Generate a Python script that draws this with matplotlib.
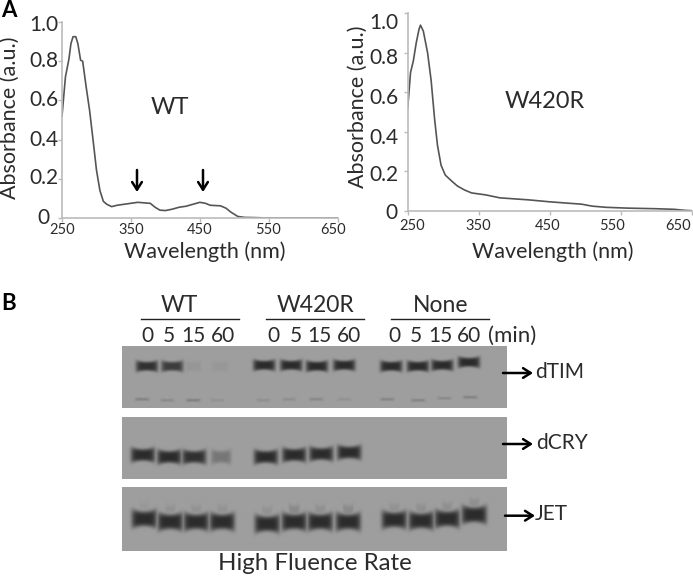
#!/usr/bin/env python3
import numpy as np
import matplotlib
matplotlib.use("Agg")
import matplotlib.pyplot as plt

plt.rcParams['font.family'] = ['Lato', 'DejaVu Sans']

W, H = 693, 577
TEXT = '#2b2b2b'

# ======= Spectra =======
wt_nm = [250, 255, 260, 263, 266, 270, 273, 277, 280, 285, 290, 295, 300, 305, 310, 315, 322, 330,
         340, 350, 360, 370, 378, 385, 392, 400, 410, 420, 430, 440, 450, 458, 465, 480, 488, 495,
         505, 515, 530, 550, 650]
wt_abs = [0.52, 0.72, 0.81, 0.89, 0.925, 0.925, 0.89, 0.805, 0.80, 0.67, 0.55, 0.40, 0.245, 0.14,
          0.085, 0.07, 0.058, 0.065, 0.07, 0.075, 0.08, 0.077, 0.075, 0.055, 0.04, 0.038, 0.045,
          0.055, 0.06, 0.07, 0.08, 0.075, 0.065, 0.062, 0.05, 0.03, 0.008, 0.003, 0.002, 0.0, 0.0]

mut_nm = [250, 254, 258, 262, 266, 268, 272, 278, 283, 288, 292, 297, 303, 312, 320, 330, 340, 360,
          380, 400, 420, 450, 480, 495, 510, 530, 560, 600, 625, 640, 650]
mut_abs = [0.52, 0.70, 0.76, 0.85, 0.92, 0.94, 0.91, 0.80, 0.66, 0.46, 0.33, 0.23, 0.18, 0.15, 0.125,
           0.105, 0.09, 0.08, 0.065, 0.06, 0.055, 0.045, 0.037, 0.033, 0.023, 0.017, 0.013, 0.01,
           0.007, 0.002, 0.0]

x_ticks = [250, 350, 450, 550, 650]
y_ticks = [0, 0.2, 0.4, 0.6, 0.8, 1.0]
y_tick_labels = ['0', '0.2', '0.4', '0.6', '0.8', '1.0']

# ======= Blot band strengths, lanes WT / W420R / None x 0, 5, 15, 60 =======
lane_labels = ['0', '5', '15', '60']
tim_main = [0.95, 0.85, 0.07, 0.06, 1, 1, 1, 1, 1, 1, 1, 1]
tim_low = [0.22, 0.16, 0.24, 0.10, 0.12, 0.12, 0.18, 0.10, 0.20, 0.20, 0.16, 0.22]
cry_main = [1, 1, 0.95, 0.35, 1, 1, 1, 1, 0, 0, 0, 0]
jet_main = [1, 1, 1, 1, 1, 1, 1, 1, 1, 1, 1, 1]
jet_smear = [0.05, 0.1, 0.1, 0.1, 0.1, 0.18, 0.12, 0.18, 0.1, 0.12, 0.12, 0.12]


def px_rect(x0, y0, x1, y1):
    return [x0 / W, 1 - y1 / H, (x1 - x0) / W, (y1 - y0) / H]


def band(X, Y, cx, cy, a, w, h):
    dx = (X - cx) / w
    # the ends of a band run thicker than its middle
    th = h * (0.9 + 0.35 * np.minimum(dx ** 2, 1))
    return a * np.exp(-dx ** 6) * np.exp(-np.abs((Y - cy) / th) ** 4)


def blot(ax, box, layers, bg=0.62):
    x0, y0, x1, y1 = box
    X, Y = np.meshgrid(np.arange(x0, x1, 0.5), np.arange(y0, y1, 0.5))
    dark = np.zeros_like(X)
    for strengths, xs, ys, w, h in layers:
        for a, cx, cy in zip(strengths, xs, ys):
            # weak bands are narrower than saturated ones
            dark = np.maximum(dark, band(X, Y, cx, cy, a, w * (0.7 + 0.3 * min(1, a * 1.2)), h))
    ax.imshow(bg - (bg - 0.17) * dark, extent=(x0, x1, y1, y0), cmap='gray', vmin=0, vmax=1,
              aspect='auto', interpolation='bilinear', zorder=1)


def spectrum(rect, nm, values, x_end=650):
    ax = fig.add_axes(rect, facecolor='none')
    ax.plot(nm, values, color='#555555', lw=1.2)
    ax.set_xlim(250, x_end)
    ax.set_ylim(0, 1)
    ax.set_xticks(x_ticks)
    ax.set_yticks(y_ticks)
    ax.set_xticklabels([])
    ax.set_yticklabels([])
    ax.tick_params(length=3, width=1, color='#bbbbbb')
    ax.spines[['top', 'right']].set_visible(False)
    ax.spines[['left', 'bottom']].set_color('#bbbbbb')
    ax.spines[['left', 'bottom']].set_linewidth(1.2)
    return ax


def arrow(ax, x0, y0, x1, y1, lw=1.8):
    ax.annotate('', xy=(x1, y1), xytext=(x0, y0),
                arrowprops=dict(arrowstyle='->,head_length=0.55,head_width=0.35', color='black',
                                lw=lw, shrinkA=0, shrinkB=0))


fig = plt.figure(figsize=(W / 100, H / 100), dpi=100, facecolor='white')

spectrum(px_rect(62, 22, 337.7, 218), wt_nm, wt_abs)
spectrum(px_rect(407.7, 13.3, 691.7, 210.7), mut_nm, mut_abs)

# pixel-space layer for labels and the blots
ov = fig.add_axes([0, 0, 1, 1], facecolor='none')

tim_x = [146.7, 172, 193, 220, 264, 291, 316.7, 344, 391, 417.7, 442, 468.7]
tim_y = [366, 366, 366, 366, 365, 365, 366, 365, 366, 366, 365, 362]
tim_low_x = [142, 167, 193, 217, 263, 289, 316, 344, 387, 418, 444, 470]
tim_low_y = [399, 400, 400, 400, 400, 399, 399, 399, 399, 400, 398, 397]
cry_x = [142.7, 169, 194, 221, 265.7, 294, 321, 349, 0, 0, 0, 0]
cry_y = [455, 457, 457, 457, 457, 455, 454, 452.5, 0, 0, 0, 0]
jet_x = [144, 170, 196, 222, 267, 294, 320, 348, 394, 421, 447, 474]
jet_y = [519, 522, 522, 522, 524, 522, 522, 522, 520, 521, 519, 515]
smear_y = [y - 10 for y in jet_y]

blot(ov, (122, 346, 506.7, 408), [(tim_main, tim_x, tim_y, 11, 5), (tim_low, tim_low_x, tim_low_y, 9, 1.6)])
blot(ov, (122, 417.3, 506.7, 479.3), [(cry_main, cry_x, cry_y, 12, 6.5)])
blot(ov, (122, 487.7, 506.7, 551), [(jet_main, jet_x, jet_y, 12.5, 8), (jet_smear, jet_x, smear_y, 7, 7)])

ov.set_xlim(0, W)
ov.set_ylim(H, 0)
ov.axis('off')


def put(x, y, s, size, **kw):
    kw.setdefault('ha', 'center')
    kw.setdefault('va', 'center')
    kw.setdefault('color', TEXT)
    ov.text(x, y, s, fontsize=size, **kw)


# panel A, left
for lab, y in zip(y_tick_labels, [218, 178, 140, 100, 61, 25]):
    put(49 if lab == '0' else 58, y, lab, 15, ha='right')
for t, x in zip(x_ticks, [62, 131.7, 200, 268, 333]):
    put(x, 230, str(t), 10.5)
put(10, 118, 'Absorbance (a.u.)', 15.5, rotation=90)
put(205, 252, 'Wavelength (nm)', 15.5)
put(170, 108, 'WT', 17)
arrow(ov, 137, 170, 137, 192)
arrow(ov, 203, 170, 203, 192)

# panel A, right
for lab, y in zip(y_tick_labels, [213, 175, 138, 98, 58, 22.7]):
    put(398, y, lab, 15, ha='right')
for t, x in zip(x_ticks, [411.7, 478, 548, 611.7, 678]):
    put(x, 225.7, str(t), 10.5)
put(358, 107, 'Absorbance (a.u.)', 15.5, rotation=90)
put(553, 252, 'Wavelength (nm)', 15.5)
put(545, 101, 'W420R', 17)

put(9, 10.5, 'A', 16, fontweight='bold', color='black')
put(9, 304, 'B', 16, fontweight='bold', color='black')

# panel B headers
for name, cx, x0, x1 in [('WT', 179, 141, 239.3), ('W420R', 315.7, 265.7, 364.3), ('None', 441, 391, 489.3)]:
    put(cx, 305.7, name, 16.5)
    ov.plot([x0, x1], [319.3, 319.3], color='#222222', lw=1)
lane_x = [147.7, 169.3, 193.3, 223.3, 273.3, 296, 319.3, 349, 394, 416, 440, 469.3]
for i, x in enumerate(lane_x):
    put(x, 336, lane_labels[i % 4], 15)
put(511.7, 336, '(min)', 16)

# blot names with arrows
for name, y_text, x_from, y_arrow, x_text in [('dTIM', 371.7, 503, 373, 535), ('dCRY', 442.7, 503, 444, 535.7),
                                              ('JET', 514, 505, 515.7, 535)]:
    arrow(ov, x_from, y_arrow, x_from + 30, y_arrow)
    put(x_text, y_text, name, 15, ha='left')
put(315, 564, 'High Fluence Rate', 17.3)

fig.savefig('out.png', dpi=100)
